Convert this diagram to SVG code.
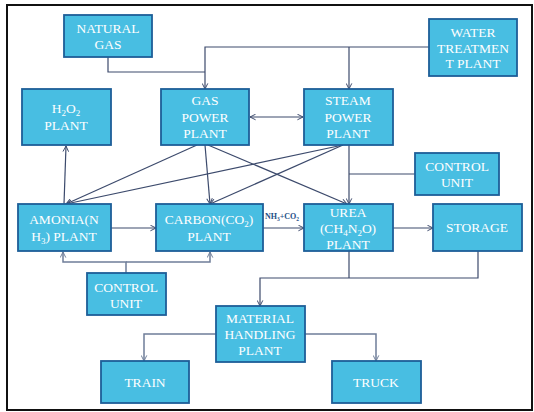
<svg xmlns="http://www.w3.org/2000/svg" width="534" height="412" viewBox="0 0 534 412">
<defs>
<style>
.box{fill:#48BEE2;stroke:#1D5E98;stroke-width:1.8}
.t{font-family:"Liberation Serif","DejaVu Serif",serif;font-size:13.5px;fill:#ffffff;text-anchor:middle}
.s{font-size:9px;baseline-shift:-3px}
.ss{font-size:5.5px;baseline-shift:-2px}
.c{fill:none;stroke:#3C4A6C;stroke-width:1.2}
.g{fill:none;stroke:#6F7E99;stroke-width:1.5}
.lbl{font-family:"Liberation Serif","DejaVu Serif",serif;font-size:8px;font-weight:bold;fill:#1D4E86}
</style>
<marker id="a" viewBox="0 0 10 10" refX="9" refY="5" markerWidth="7" markerHeight="7" orient="auto-start-reverse" markerUnits="userSpaceOnUse">
<path d="M1,1 L9,5 L1,9" fill="none" stroke="#3C4A6C" stroke-width="1.4"/>
</marker>
<marker id="ag" viewBox="0 0 10 10" refX="9" refY="5" markerWidth="7" markerHeight="7" orient="auto-start-reverse" markerUnits="userSpaceOnUse">
<path d="M1,1 L9,5 L1,9" fill="none" stroke="#6F7E99" stroke-width="1.4"/>
</marker>
</defs>
<rect x="0" y="0" width="534" height="412" fill="#ffffff"/>
<rect x="7" y="5" width="525" height="405" fill="none" stroke="#111111" stroke-width="2"/>

<g id="connectors">
<path class="c" d="M108,57 V72 H205"/>
<path class="c" d="M429,47 H205 V89" marker-end="url(#a)"/>
<path class="c" d="M349,47 V89" marker-end="url(#a)"/>
<path class="c" d="M250,117 H303" marker-start="url(#a)" marker-end="url(#a)"/>
<path class="c" d="M197,145 L66,204" marker-end="url(#a)"/>
<path class="c" d="M343,145 L66,204" marker-end="url(#a)"/>
<path class="c" d="M205,145 L210,204" marker-end="url(#a)"/>
<path class="c" d="M343,145 L210,204" marker-end="url(#a)"/>
<path class="c" d="M208,145 L347,204" marker-end="url(#a)"/>
<path class="c" d="M349,145 V204" marker-end="url(#a)"/>
<path class="c" d="M415,174 H349"/>
<path class="c" d="M64,204 L66,146" marker-end="url(#a)"/>
<path class="c" d="M111,228 H156" marker-end="url(#a)"/>
<path class="c" d="M263,228 H304" marker-end="url(#a)"/>
<path class="c" d="M393,228 H433" marker-end="url(#a)"/>
<path class="g" d="M126,273 V262 H63 V252" marker-end="url(#ag)"/>
<path class="g" d="M126,262 H210 V252" marker-end="url(#ag)"/>
<path class="c" d="M349,251 V278"/>
<path class="c" d="M478,251 V278 H260 V306" marker-end="url(#a)"/>
<path class="g" d="M216,334 H144 V361" marker-end="url(#ag)"/>
<path class="g" d="M305,334 H376 V361" marker-end="url(#ag)"/>
<text class="lbl" x="265" y="219">NH<tspan class="ss">3</tspan>+CO<tspan class="ss">2</tspan></text>
</g>

<g id="natural-gas">
<rect class="box" x="64" y="15" width="88" height="42"/>
<text class="t" x="108" y="33">NATURAL</text>
<text class="t" x="108" y="49">GAS</text>
</g>
<g id="water-treatment">
<rect class="box" x="429" y="19" width="88" height="57"/>
<text class="t" x="473" y="37">WATER</text>
<text class="t" x="473" y="53">TREATMEN</text>
<text class="t" x="473" y="68">T PLANT</text>
</g>
<g id="h2o2-plant">
<rect class="box" x="22" y="89" width="89" height="56"/>
<text class="t" x="66" y="113">H<tspan class="s">2</tspan>O<tspan class="s">2</tspan></text>
<text class="t" x="66" y="130">PLANT</text>
</g>
<g id="gas-power-plant">
<rect class="box" x="161" y="89" width="88" height="56"/>
<text class="t" x="205" y="105">GAS</text>
<text class="t" x="205" y="122">POWER</text>
<text class="t" x="205" y="138">PLANT</text>
</g>
<g id="steam-power-plant">
<rect class="box" x="304" y="89" width="89" height="56"/>
<text class="t" x="348" y="105">STEAM</text>
<text class="t" x="348" y="122">POWER</text>
<text class="t" x="348" y="138">PLANT</text>
</g>
<g id="control-unit-top">
<rect class="box" x="415" y="153" width="84" height="42"/>
<text class="t" x="457" y="171">CONTROL</text>
<text class="t" x="457" y="187">UNIT</text>
</g>
<g id="amonia-plant">
<rect class="box" x="18" y="204" width="93" height="47"/>
<text class="t" x="64" y="224">AMONIA(N</text>
<text class="t" x="64" y="241">H<tspan class="s">3</tspan>) PLANT</text>
</g>
<g id="carbon-plant">
<rect class="box" x="156" y="204" width="107" height="47"/>
<text class="t" x="209" y="224">CARBON(CO<tspan class="s">2</tspan>)</text>
<text class="t" x="209" y="241">PLANT</text>
</g>
<g id="urea-plant">
<rect class="box" x="304" y="204" width="89" height="47"/>
<text class="t" x="348" y="217">UREA</text>
<text class="t" x="348" y="233">(CH<tspan class="s">4</tspan>N<tspan class="s">2</tspan>O)</text>
<text class="t" x="348" y="248.5">PLANT</text>
</g>
<g id="storage">
<rect class="box" x="433" y="204" width="89" height="47"/>
<text class="t" x="477" y="232">STORAGE</text>
</g>
<g id="control-unit-bottom">
<rect class="box" x="87" y="273" width="79" height="42"/>
<text class="t" x="126" y="292">CONTROL</text>
<text class="t" x="126" y="308">UNIT</text>
</g>
<g id="material-handling-plant">
<rect class="box" x="216" y="306" width="89" height="56"/>
<text class="t" x="260" y="323">MATERIAL</text>
<text class="t" x="260" y="339">HANDLING</text>
<text class="t" x="260" y="355">PLANT</text>
</g>
<g id="train">
<rect class="box" x="101" y="361" width="88" height="42"/>
<text class="t" x="145" y="387">TRAIN</text>
</g>
<g id="truck">
<rect class="box" x="332" y="361" width="89" height="42"/>
<text class="t" x="376" y="387">TRUCK</text>
</g>
</svg>
